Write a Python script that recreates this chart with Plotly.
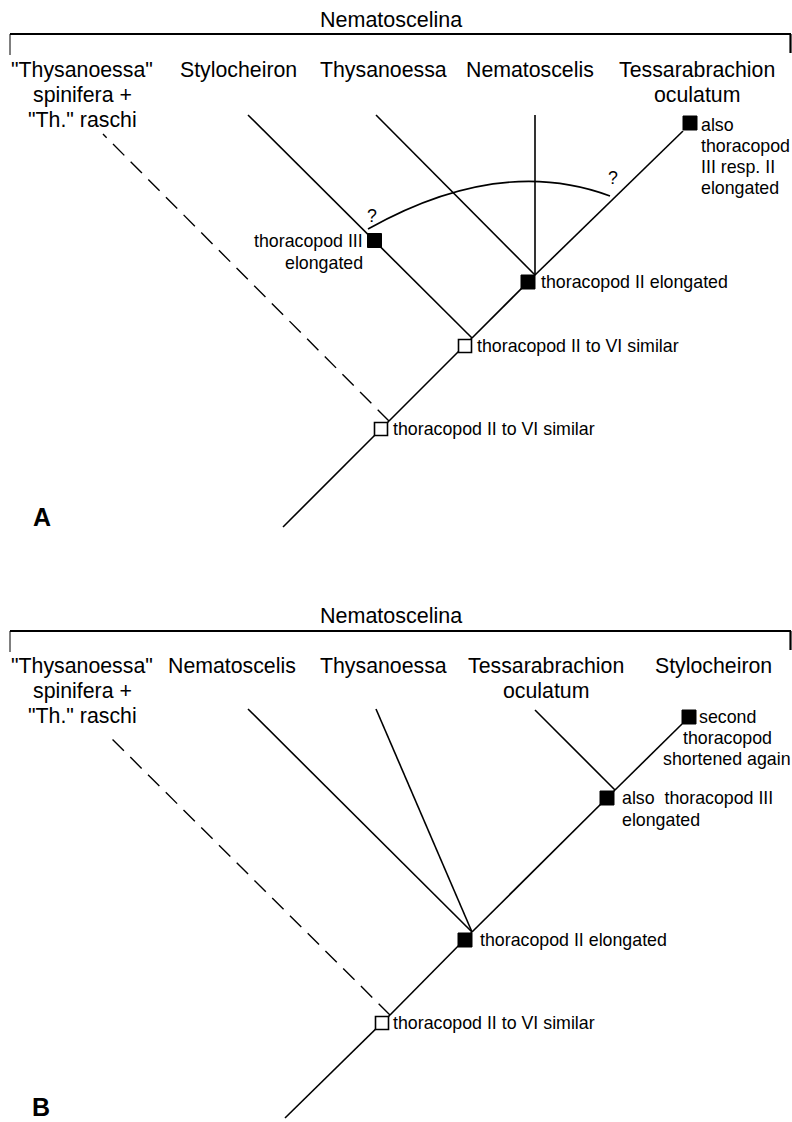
import plotly.graph_objects as go

FONT = "Liberation Sans, Arial, Helvetica, sans-serif"

# ---------------- data: panel A ----------------
taxa_A = [['"Thysanoessa"', 'spinifera +', '"Th." raschi'], ['Stylocheiron'], ['Thysanoessa'],
          ['Nematoscelis'], ['Tessarabrachion', 'oculatum']]
taxa_A_x = [82, 238, 383, 530, 697]

nodes_A = {"root": (283, 527), "j1": (389, 421), "j2": (472, 338), "j3": (535, 275),
           "t_dash": (103, 134), "t_sty": (248, 115), "t_thy": (376, 115),
           "t_nem": (535, 115), "t_tes": (683, 131)}
edges_A = [("root", "j1"), ("j1", "j2"), ("j2", "j3"), ("j3", "t_tes"),
           ("j2", "t_sty"), ("j3", "t_thy"), ("j3", "t_nem")]
dashed_A = [("j1", "t_dash")]
open_sq_A = [(381, 429), (465, 346)]
black_sq_A = [(528, 282), (374.5, 240.5), (690, 123)]
notes_A = [  # lines, x, y of first line, anchor
    (["thoracopod II to VI similar"], 391, 429, "left"),
    (["thoracopod II to VI similar"], 475, 346, "left"),
    (["thoracopod II elongated"], 539, 282, "left"),
    (["thoracopod III", "elongated"], 365, 241, "right"),
    (["also", "thoracopod", "III resp. II", "elongated"], 699, 125, "left"),
    (["?"], 372, 216, "center"),
    (["?"], 613, 178, "center"),
]
arc_A = [(368, 229), (500, 155), (610, 196)]

# ---------------- data: panel B ----------------
taxa_B = [['"Thysanoessa"', 'spinifera +', '"Th." raschi'], ['Nematoscelis'], ['Thysanoessa'],
          ['Tessarabrachion', 'oculatum'], ['Stylocheiron']]
taxa_B_x = [82, 232, 383, 546, 713]

nodes_B = {"root": (285, 1118), "j1": (390, 1015), "j2": (472, 932), "j3": (615, 790),
           "t_dash": (108, 735), "t_nem": (248, 709), "t_thy": (376, 709),
           "t_tes": (535, 710), "t_sty": (682, 724)}
edges_B = [("root", "j1"), ("j1", "j2"), ("j2", "j3"), ("j3", "t_sty"),
           ("j2", "t_nem"), ("j2", "t_thy"), ("j3", "t_tes")]
dashed_B = [("j1", "t_dash")]
open_sq_B = [(382, 1023)]
black_sq_B = [(465, 940), (607, 798), (689, 717)]
notes_B = [
    (["thoracopod II to VI similar"], 391, 1023, "left"),
    (["thoracopod II elongated"], 478, 940, "left"),
    (["also  thoracopod III", "elongated"], 620, 798, "left"),
    (["second", "thoracopod", "shortened again"], 727, 717, "center"),
]

panels = [
    dict(taxa=taxa_A, tx=taxa_A_x, nodes=nodes_A, edges=edges_A, dashed=dashed_A,
         open_sq=open_sq_A, black_sq=black_sq_A, notes=notes_A, bracket_y=34,
         title_y=20, taxa_y=70, letter="A", letter_x=42, letter_y=517),
    dict(taxa=taxa_B, tx=taxa_B_x, nodes=nodes_B, edges=edges_B, dashed=dashed_B,
         open_sq=open_sq_B, black_sq=black_sq_B, notes=notes_B, bracket_y=631,
         title_y=616, taxa_y=666, letter="B", letter_x=41, letter_y=1107),
]

fig = go.Figure()
annotations = []
shapes = []

def add_line(p, q, dash="solid", width=1.6):
    fig.add_trace(go.Scatter(x=[p[0], q[0]], y=[p[1], q[1]], mode="lines",
                             line=dict(color="black", width=width, dash=dash),
                             hoverinfo="skip", showlegend=False))

for P in panels:
    nd = P["nodes"]
    for a, b in P["edges"]:
        add_line(nd[a], nd[b])
    for a, b in P["dashed"]:
        add_line(nd[a], nd[b], dash="16px,9px", width=1.4)
    # bracket
    by = P["bracket_y"]
    add_line((10, by), (791, by), width=2.2)
    add_line((10, by), (10, by + 21), width=1)
    add_line((790.5, by), (790.5, by + 19), width=2.2)
    # squares
    if P["open_sq"]:
        fig.add_trace(go.Scatter(x=[s[0] for s in P["open_sq"]], y=[s[1] for s in P["open_sq"]],
                                 mode="markers", marker=dict(symbol="square", size=13, color="white",
                                 line=dict(color="black", width=1.6)), hoverinfo="skip", showlegend=False))
    fig.add_trace(go.Scatter(x=[s[0] for s in P["black_sq"]], y=[s[1] for s in P["black_sq"]],
                             mode="markers", marker=dict(symbol="square", size=14, color="black",
                             line=dict(color="black", width=1)), hoverinfo="skip", showlegend=False))
    # title
    annotations.append(dict(x=391, y=P["title_y"], text="Nematoscelina", showarrow=False,
                            xanchor="center", yanchor="middle", font=dict(size=21.5, family=FONT, color="black")))
    # taxa
    for lines, x in zip(P["taxa"], P["tx"]):
        for i, t in enumerate(lines):
            annotations.append(dict(x=x, y=P["taxa_y"] + i * 25, text=t, showarrow=False,
                                    xanchor="center", yanchor="middle",
                                    font=dict(size=21.3, family=FONT, color="black")))
    # notes
    for lines, x, y, anc in P["notes"]:
        sp = 21 if len(lines) > 2 else 22
        for i, t in enumerate(lines):
            annotations.append(dict(x=x, y=y + i * sp, text=t, showarrow=False,
                                    xanchor=anc, yanchor="middle",
                                    font=dict(size=17.8, family=FONT, color="black")))
    annotations.append(dict(x=P["letter_x"], y=P["letter_y"], text="<b>" + P["letter"] + "</b>", showarrow=False,
                            xanchor="center", yanchor="middle", font=dict(size=25, family=FONT, color="black")))

p0, c, p2 = arc_A
shapes.append(dict(type="path", xref="x", yref="y",
                   path=f"M {p0[0]},{p0[1]} Q {c[0]},{c[1]} {p2[0]},{p2[1]}",
                   line=dict(color="black", width=1.6)))

fig.update_layout(width=792, height=1122, margin=dict(l=0, r=0, t=0, b=0),
                  paper_bgcolor="white", plot_bgcolor="white",
                  xaxis=dict(range=[0, 792], visible=False, fixedrange=True),
                  yaxis=dict(range=[1122, 0], visible=False, fixedrange=True),
                  annotations=annotations, shapes=shapes, showlegend=False)
fig.write_html("out.html", config={"displayModeBar": False},
               post_script="document.body.style.margin='0';document.body.style.overflow='hidden';")
